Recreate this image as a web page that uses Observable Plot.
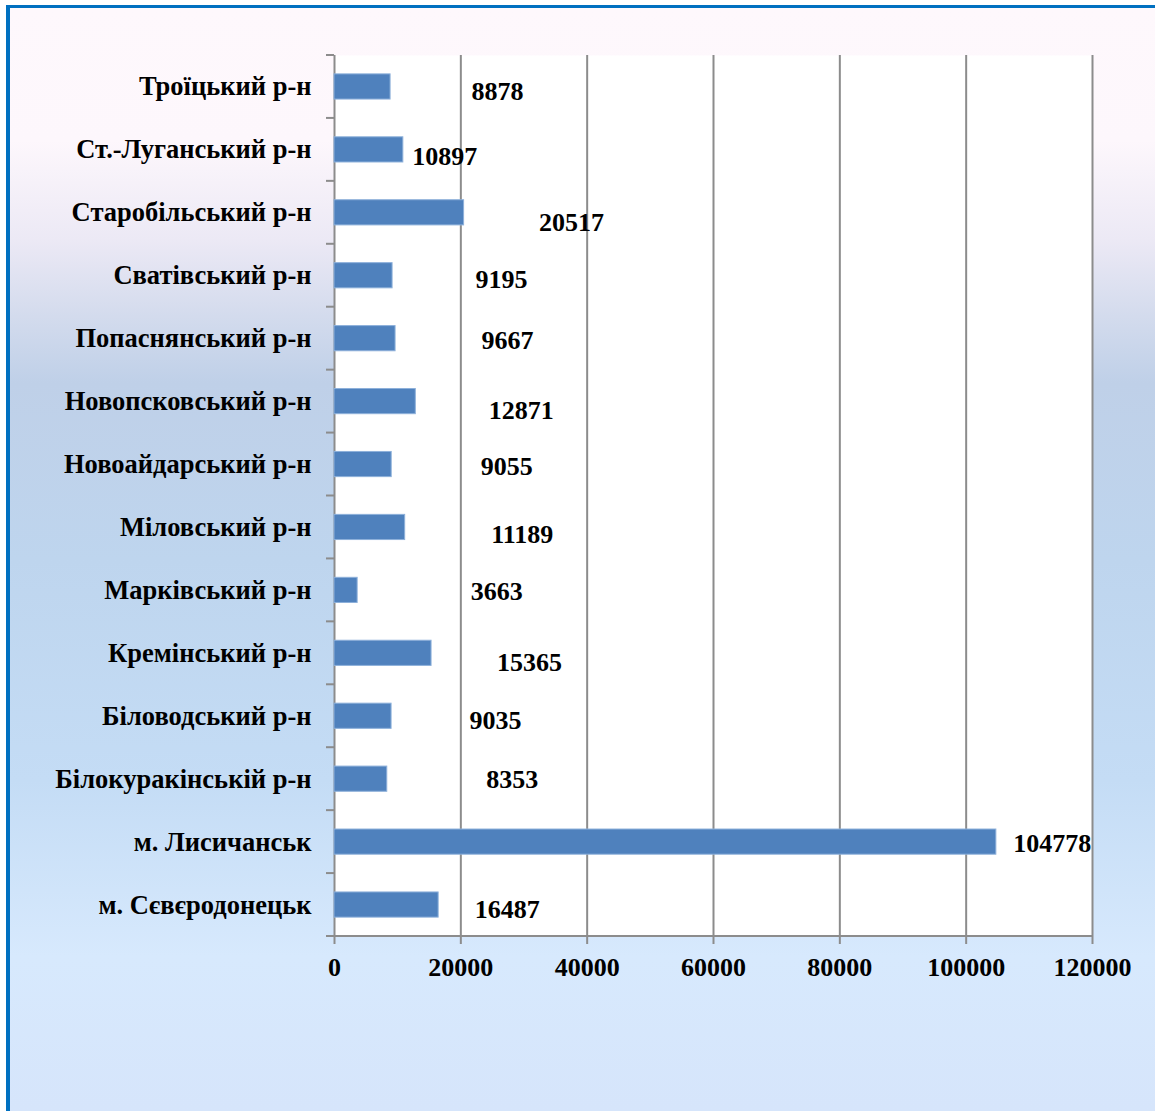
<!DOCTYPE html>
<html>
<head>
<meta charset="utf-8">
<script src="https://cdn.jsdelivr.net/npm/d3@7"></script>
<script src="https://cdn.jsdelivr.net/npm/@observablehq/plot@0.6"></script>
<style>
  html, body { margin: 0; padding: 0; background: #ffffff; }
  #page { position: relative; width: 1155px; height: 1111px; overflow: hidden; background: #ffffff; }
  #bg {
    position: absolute; left: 6px; top: 5px; right: 0; bottom: 0;
    border-left: 4px solid #0070c0; border-top: 3px solid #0070c0;
    background: linear-gradient(to bottom,
      #fef8fc 0%, #fdf7fc 12%, #ece9f5 21%, #d3dbed 28%, #bfd0e8 34%,
      #bed5ee 50%, #c4dcf5 70%, #d7e9fd 86%, #d6e5fb 100%);
  }
  #chart { position: absolute; left: 0; top: 0; }
</style>
</head>
<body>
<div id="page"><div id="bg"></div><div id="chart"></div></div>
<script>
// ---- data ----
const categories = [
  "Троїцький р-н",
  "Ст.-Луганський р-н",
  "Старобільський р-н",
  "Сватівський р-н",
  "Попаснянський р-н",
  "Новопсковський р-н",
  "Новоайдарський р-н",
  "Міловський р-н",
  "Марківський р-н",
  "Кремінський р-н",
  "Біловодський р-н",
  "Білокуракінській р-н",
  "м. Лисичанськ",
  "м. Сєвєродонецьк"
];
const values = [8878, 10897, 20517, 9195, 9667, 12871, 9055, 11189, 3663, 15365, 9035, 8353, 104778, 16487];
const xTicks = [0, 20000, 40000, 60000, 80000, 100000, 120000];

// ---- layout: manual nudges of the value labels (px, relative to bar end / band centre) ----
const labelNudge = [
  [81, 4.5], [9, 6.5], [75, 9.5], [83, 3.7], [86, 2.2], [73, 9], [89, 2],
  [86, 7], [113, 1.5], [65.5, 9], [78, 4.5], [99, 0.5], [17, 1.3], [36, 4.4]
];

const data = categories.map((c, i) => ({cat: c, value: values[i], i}));
const FONT = "'Liberation Serif', 'Times New Roman', Times, serif";
const GRID = "#8c8c8c";

function categoryTicks(index, scales, vals, dims) {
  const {marginLeft, marginTop, marginRight, marginBottom, width, height} = dims;
  const n = categories.length;
  const step = (height - marginTop - marginBottom) / n;
  const g = d3.create("svg:g").attr("stroke", GRID).attr("stroke-width", 2);
  for (let i = 0; i <= n; i++) {
    const yy = marginTop + i * step;
    g.append("line").attr("x1", marginLeft - 8).attr("x2", marginLeft).attr("y1", yy).attr("y2", yy);
  }
  const yb = height - marginBottom;
  g.append("line").attr("x1", marginLeft).attr("x2", width - marginRight).attr("y1", yb).attr("y2", yb);
  return g.node();
}

const labelMarks = data.map((d, k) => Plot.text([d], {
  x: "value", y: "cat", text: dd => String(dd.value),
  textAnchor: "start", dx: labelNudge[k][0], dy: labelNudge[k][1],
  fill: "black", fontSize: 26, fontWeight: "bold", fontFamily: FONT
}));

const chart = Plot.plot({
  width: 1155,
  height: 1111,
  marginLeft: 334,
  marginRight: 63,
  marginTop: 55,
  marginBottom: 175,
  style: {background: "transparent", fontFamily: FONT, fontSize: "26px", fontWeight: "bold", color: "black"},
  x: {domain: [0, 120000], axis: null},
  y: {domain: categories, paddingInner: 0.6, paddingOuter: 0.3, round: false, axis: null},
  marks: [
    Plot.frame({fill: "white", stroke: null}),
    Plot.ruleX(xTicks, {stroke: GRID, strokeWidth: 2}),
    Plot.barX(data, {x: "value", y: "cat", fill: "#4f81bd", stroke: "#8db0da", strokeWidth: 1}),
    categoryTicks,
    Plot.axisX({
      ticks: xTicks, tickSize: 8, tickPadding: 13, tickFormat: d => String(d),
      stroke: GRID, strokeWidth: 2, fill: "black", label: null,
      fontSize: 26, fontWeight: "bold", fontFamily: FONT
    }),
    Plot.axisY({
      tickSize: 0, tickPadding: 23, label: null, fill: "black",
      fontSize: 26.5, fontWeight: "bold", fontFamily: FONT
    }),
    ...labelMarks
  ]
});
document.getElementById("chart").appendChild(chart);
</script>
</body>
</html>
